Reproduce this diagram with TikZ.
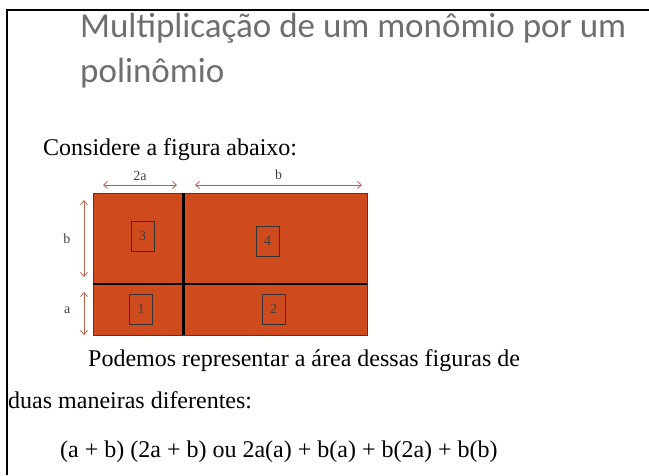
\documentclass[tikz,border=0pt]{standalone}
\usepackage{fontspec}
\setmainfont{Liberation Serif}
\newfontfamily\titlefont{Carlito}
\usepackage{tikz}
\usetikzlibrary{positioning,calc,arrows.meta}

\definecolor{brick}{RGB}{207,74,28}
\definecolor{brickedge}{RGB}{120,40,15}
\definecolor{dimcol}{RGB}{184,96,72}
\definecolor{titlegray}{RGB}{110,110,110}

\begin{document}
\begin{tikzpicture}[
    x=1pt, y=-1pt,
    region/.style={rectangle, fill=brick, inner sep=0pt, anchor=north west},
    numbox/.style={draw=black!80, line width=0.5pt, minimum width=23pt, minimum height=30pt, inner sep=0pt, font=\fontsize{14}{14}\selectfont, text=black!75},
    divider/.style={line width=2.2pt, black},
    dimarrow/.style={draw=dimcol, line width=0.8pt, {Straight Barb[length=4pt,width=7pt]}-{Straight Barb[length=4pt,width=7pt]}},
    dimlab/.style={font=\fontsize{14}{14}\selectfont, text=black!75},
    txt/.style={anchor=base west, inner sep=0pt, font=\fontsize{24}{24}\selectfont},
    frameline/.style={line width=2.5pt, black},
]
\useasboundingbox (0,0) rectangle (649,475);

% Frame
\draw[frameline] (6,10) -- (649,10);
\draw[frameline] (7,8.75) -- (7,475);

% Title
\node[txt, font=\titlefont\fontsize{35}{35}\selectfont, text=titlegray] (title1) at (80,37) {Multiplicação de um monômio por um};
\node[txt, font=\titlefont\fontsize{35}{35}\selectfont, text=titlegray] (title2) at (80,82) {polinômio};

\node[txt] (intro) at (43,155) {Considere a figura abaixo:};

% Regions (3 | 4 over 1 | 2)
\node[region, minimum width=90pt, minimum height=91pt] (r3) at (93,193) {};
\node[region, minimum width=184pt, minimum height=91pt] (r4) at (183,193) {};
\node[region, minimum width=90pt, minimum height=51pt] (r1) at (93,284) {};
\node[region, minimum width=184pt, minimum height=51pt] (r2) at (183,284) {};
\draw[brickedge, line width=0.8pt] (r3.north west) rectangle (r2.south east);
\draw[divider] (r3.north east) -- (r1.south east);
\draw[divider] (r1.north west) -- (r2.north east);

% Numbered boxes
\node[numbox] (n3) at (142.5,236) {3};
\node[numbox] (n4) at (267.5,241) {4};
\node[numbox] (n1) at (141,309) {1};
\node[numbox] (n2) at (273.5,309) {2};

% Dimension arrows
\coordinate (w1) at (103,185);
\coordinate (w2) at (177,185);
\coordinate (w3) at (195,185);
\coordinate (w4) at (362,185);
\coordinate (h1) at (84,200);
\coordinate (h2) at (84,277);
\coordinate (h3) at (84,292);
\coordinate (h4) at (84,335);
\draw[dimarrow] (w1) -- node[dimlab, above=1pt] {2a} (w2);
\draw[dimarrow] (w3) -- node[dimlab, above=2pt] {b} (w4);
\draw[dimarrow] (h1) -- node[dimlab, left=10pt] {b} (h2);
\draw[dimarrow] (h3) -- node[dimlab, left=10pt, yshift=3pt] {a} (h4);

% Text below
\node[txt] (para1) at (88,366) {Podemos representar a área dessas figuras de};
\node[txt] (para2) at (8,408) {duas maneiras diferentes:};
\node[txt] (formula) at (60,457) {(a + b) (2a + b) ou 2a(a) + b(a) + b(2a) + b(b)};
\end{tikzpicture}
\end{document}
